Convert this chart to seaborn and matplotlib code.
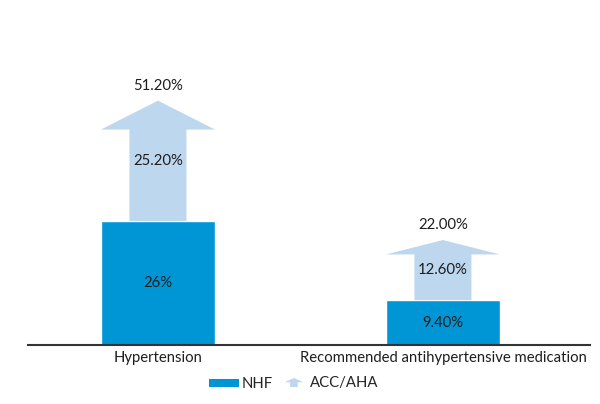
import numpy as np
import seaborn as sns
import matplotlib.pyplot as plt
from matplotlib.patches import Polygon, Rectangle
from matplotlib.legend_handler import HandlerBase

categories = ["Hypertension", "Recommended antihypertensive medication"]
nhf = [26.0, 9.4]
acc_aha = [51.2, 22.0]
nhf_labels = ["26%", "9.40%"]
diff_labels = ["25.20%", "12.60%"]
total_labels = ["51.20%", "22.00%"]

blue = "#0096d6"
light = "#bdd7ee"
txt = "#1e1e1e"

sns.set_theme(style="white")
plt.rcParams["font.family"] = ["Lato", "DejaVu Sans"]

fig = plt.figure(figsize=(6, 4.04), dpi=100)
ax = fig.add_axes([28 / 600, 59 / 404, 562 / 600, 345 / 404])

sns.barplot(x=categories, y=nhf, color=blue, saturation=1, width=0.4, ax=ax)


def arrow_points(x, base, top):
    # shaft + head, head takes ~quarter of the increase
    head = 0.24 * (top - base)
    return [(x - 0.1, base), (x + 0.1, base), (x + 0.1, top - head),
            (x + 0.2, top - head), (x, top), (x - 0.2, top - head),
            (x - 0.1, top - head)]


for i, (lo, hi) in enumerate(zip(nhf, acc_aha)):
    ax.add_patch(Polygon(arrow_points(i, lo, hi), closed=True, facecolor=light, edgecolor="none"))
    ax.text(i, lo / 2, nhf_labels[i], ha="center", va="center", fontsize=10.7, color=txt)
    ax.text(i, (lo + hi) / 2, diff_labels[i], ha="center", va="center", fontsize=10.7, color=txt)
    ax.text(i, hi + 3.1, total_labels[i], ha="center", va="center", fontsize=10.7, color=txt)

ax.set_xlim(-0.456, 1.516)
ax.set_ylim(0, 72.3)
ax.set_yticks([])
ax.set_ylabel("")
for s in ["left", "right", "top"]:
    ax.spines[s].set_visible(False)
ax.spines["bottom"].set_color("#333333")
ax.spines["bottom"].set_linewidth(1.5)
ax.tick_params(axis="x", length=0, pad=4, labelsize=10.7, labelcolor=txt)


class ArrowHandler(HandlerBase):
    def create_artists(self, legend, orig_handle, xdescent, ydescent, width, height, fontsize, trans):
        x0 = -xdescent
        y0 = -ydescent
        cx = x0 + width * 0.55
        hw = width * 0.32
        pts = [(cx - hw * 0.4, y0), (cx + hw * 0.4, y0), (cx + hw * 0.4, y0 + height * 0.5),
               (cx + hw, y0 + height * 0.5), (cx, y0 + height * 0.95),
               (cx - hw, y0 + height * 0.5), (cx - hw * 0.4, y0 + height * 0.5)]
        p = Polygon(pts, closed=True, facecolor=light, edgecolor="none", transform=trans)
        return [p]


class BarHandler(HandlerBase):
    def create_artists(self, legend, orig_handle, xdescent, ydescent, width, height, fontsize, trans):
        r = Rectangle((-xdescent, -ydescent), width, height * 0.85, facecolor=blue,
                      edgecolor="none", transform=trans)
        return [r]


h1 = Rectangle((0, 0), 1, 1)
h2 = Polygon([(0, 0), (1, 0), (0, 1)])
fig.legend([h1, h2], ["NHF", "ACC/AHA"], handler_map={h1: BarHandler(), h2: ArrowHandler()},
           loc="center", bbox_to_anchor=(294 / 600, 1 - 383.5 / 404), ncol=2, frameon=False,
           fontsize=10.7, handlelength=2.0, handleheight=0.6, handletextpad=0.2, columnspacing=0.3)

plt.savefig("out.png", dpi=100)
